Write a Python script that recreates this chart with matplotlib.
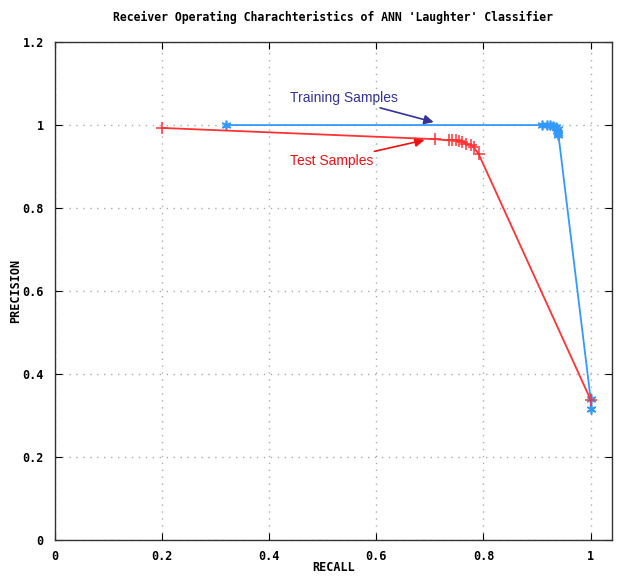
import matplotlib
matplotlib.use("Agg")
import matplotlib.pyplot as plt

# training samples (blue stars)
train_recall = [0.32, 0.91, 0.918, 0.925, 0.93, 0.935, 0.94, 0.937, 0.94, 0.94, 1.0, 1.0]
train_precision = [1.0, 1.0, 1.0, 1.0, 0.998, 0.995, 0.99, 0.985, 0.98, 0.975, 0.34, 0.316]

# test samples (red pluses)
test_recall = [0.2, 0.709, 0.736, 0.741, 0.749, 0.754, 0.760, 0.767, 0.777, 0.782, 0.791, 1.0]
test_precision = [0.993, 0.966, 0.963, 0.963, 0.963, 0.962, 0.960, 0.955, 0.952, 0.946, 0.930, 0.338]

xticks = [0, 0.2, 0.4, 0.6, 0.8, 1]
xticklabels = ['0', '0.2', '0.4', '0.6', '0.8', '1']
yticks = [0, 0.2, 0.4, 0.6, 0.8, 1, 1.2]
yticklabels = ['0', '0.2', '0.4', '0.6', '0.8', '1', '1.2']

mono = 'DejaVu Sans Mono'

fig = plt.figure(figsize=(6.17, 5.76), dpi=100)
ax = fig.add_axes([0.089, 0.0625, 0.903, 0.8645])

# gnuplot-like asterisk: 6 spokes
ax.plot(train_recall, train_precision, color='#3399ff', lw=1.3, marker=(6, 2, 0),
        ms=7, mew=1.2, zorder=3)
ax.plot(test_recall, test_precision, color='#ff3333', lw=1.3, marker='+',
        ms=8, mew=1.1, zorder=4)

ax.set_xlim(0, 1.04)
ax.set_ylim(0, 1.2)
ax.set_xticks(xticks)
ax.set_xticklabels(xticklabels, family=mono, weight='bold', fontsize=8.5)
ax.set_yticks(yticks)
ax.set_yticklabels(yticklabels, family=mono, weight='bold', fontsize=8.5)
ax.tick_params(direction='in', length=5, width=0.8, top=True, right=True)
ax.tick_params(axis='x', pad=7)
ax.tick_params(axis='y', pad=8)
ax.grid(True, color='#aaaaaa', linestyle=(0, (1, 4)), lw=1.0)
for s in ax.spines.values():
    s.set_linewidth(1.0)
    s.set_color('#333333')

ax.set_xlabel('RECALL', family=mono, weight='bold', fontsize=8.5, labelpad=-1)
ax.set_ylabel('PRECISION', family=mono, weight='bold', fontsize=8.5, labelpad=0)
ax.set_title("Receiver Operating Charachteristics of ANN 'Laughter' Classifier",
             family=mono, weight='bold', fontsize=8.3, pad=15)

ax.annotate('Training Samples', xy=(0.707, 1.007), xytext=(0.438, 1.065),
            color='#333399', fontsize=10, family='Liberation Sans', va='center',
            arrowprops=dict(arrowstyle='-|>', color='#333399', lw=1.2,
                            shrinkA=55, shrinkB=0, mutation_scale=14))
ax.annotate('Test Samples', xy=(0.690, 0.964), xytext=(0.438, 0.913),
            color='#ee1111', fontsize=10, family='Liberation Sans', va='center',
            arrowprops=dict(arrowstyle='-|>', color='#ee1111', lw=1.2,
                            shrinkA=43, shrinkB=0, mutation_scale=14))

fig.savefig('out.png', dpi=100)
